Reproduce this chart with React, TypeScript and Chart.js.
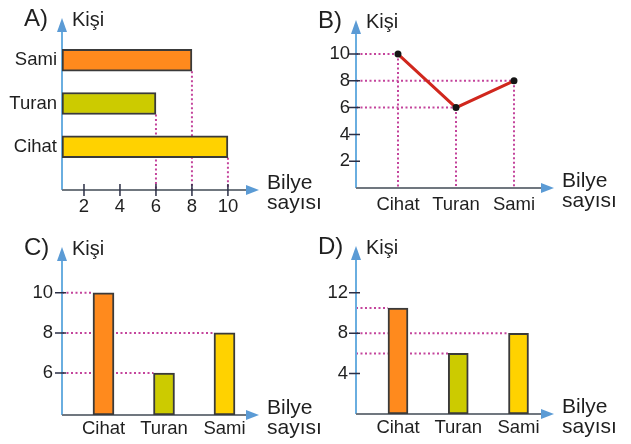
import { useEffect, useRef } from 'react';
import { Chart, registerables } from 'chart.js';

Chart.register(...registerables);

// ---------------- data ----------------
const CATEGORIES = ['Cihat', 'Turan', 'Sami'];
const MARBLES_A = [10, 6, 8];
const MARBLES_B = [10, 6, 8];
const MARBLES_C = [10, 6, 8];
const MARBLES_D = [10.5, 6, 8];
const TICKS_A = [2, 4, 6, 8, 10];
const TICKS_B = [2, 4, 6, 8, 10];
const TICKS_C = [6, 8, 10];
const TICKS_D = [4, 8, 12];
const PANEL_LABELS = ['A)', 'B)', 'C)', 'D)'];
const Y_TITLE = 'Kişi';
const X_TITLE = ['Bilye', 'sayısı'];

// ---------------- styles ----------------
const FONT = 'Arial, "Liberation Sans", Helvetica, sans-serif';
const TEXT = '#1f1f1f';
const ORANGE = '#ff8a1d';
const OLIVE = '#cccb00';
const YELLOW = '#ffd200';
const COLORS_A = [YELLOW, OLIVE, ORANGE];
const COLORS_CD = [ORANGE, OLIVE, YELLOW];
const BAR_BORDER = '#3a3a3a';
const LINE_RED = '#d0271d';
const GUIDE = '#c4449c';
const Y_AXIS = '#6aaee0';
const X_AXIS = '#70777f';
const ARROW = '#5b9bd5';
const TICK = '#2b2f45';

type Kind = 'hbar' | 'line' | 'bar';
type Spec = {
  kind: Kind;
  label: string;
  values: number[];
  ticks: number[];
  colors: string[];
  x: number; y: number; width: number; height: number;
  left: number; top: number; right: number; bottom: number;
  xMin: number; xMax: number; yMin: number; yMax: number;
  xPad: number; yPad: number; thickness: number;
};

const SPECS: Spec[] = [
  {
    kind: 'hbar', label: PANEL_LABELS[0], values: MARBLES_A, ticks: TICKS_A, colors: COLORS_A,
    x: 0, y: 0, width: 335, height: 222, left: 62, top: 31, right: 247, bottom: 190,
    xMin: 0.778, xMax: 11.06, yMin: 0, yMax: 3.676, xPad: 6, yPad: 5, thickness: 22,
  },
  {
    kind: 'line', label: PANEL_LABELS[1], values: MARBLES_B, ticks: TICKS_B, colors: [],
    x: 315, y: 0, width: 316, height: 222, left: 41, top: 33, right: 227, bottom: 188,
    xMin: 0.276, xMax: 3.483, yMin: 0, yMax: 11.57, xPad: 5.5, yPad: 6, thickness: 0,
  },
  {
    kind: 'bar', label: PANEL_LABELS[2], values: MARBLES_C, ticks: TICKS_C, colors: COLORS_CD,
    x: 0, y: 222, width: 335, height: 222, left: 62, top: 38, right: 247, bottom: 193,
    xMin: 0.314, xMax: 3.372, yMin: 3.91, yMax: 11.63, xPad: 3, yPad: 9, thickness: 21,
  },
  {
    kind: 'bar', label: PANEL_LABELS[3], values: MARBLES_D, ticks: TICKS_D, colors: COLORS_CD,
    x: 315, y: 222, width: 316, height: 222, left: 41, top: 37, right: 227, bottom: 192,
    xMin: 0.303, xMax: 3.39, yMin: 0, yMax: 15.35, xPad: 2.5, yPad: 8, thickness: 20,
  },
];

const panelPlugin = {
  id: 'panel',
  beforeDatasetsDraw(chart: any, _args: any, o: any) {
    const { ctx, chartArea, scales } = chart;
    const { left, right, top, bottom } = chartArea;
    const kind: Kind = o.kind;
    const els = chart.getDatasetMeta(0).data as any[];

    // dotted guides
    ctx.save();
    ctx.strokeStyle = GUIDE;
    ctx.lineWidth = 2;
    ctx.setLineDash([2, 2.5]);
    ctx.beginPath();
    els.forEach((el) => {
      if (kind === 'hbar') {
        ctx.moveTo(el.x, el.y + el.height / 2);
        ctx.lineTo(el.x, bottom);
      } else if (kind === 'line') {
        ctx.moveTo(left, el.y);
        ctx.lineTo(el.x, el.y);
        ctx.moveTo(el.x, el.y);
        ctx.lineTo(el.x, bottom);
      } else {
        ctx.moveTo(left, el.y);
        ctx.lineTo(el.x - el.width / 2, el.y);
      }
    });
    ctx.stroke();
    ctx.restore();

    // axes with arrows
    ctx.save();
    ctx.lineWidth = 2;
    ctx.strokeStyle = Y_AXIS;
    ctx.beginPath();
    ctx.moveTo(left, bottom);
    ctx.lineTo(left, top);
    ctx.stroke();
    ctx.strokeStyle = X_AXIS;
    ctx.beginPath();
    ctx.moveTo(left, bottom);
    ctx.lineTo(right, bottom);
    ctx.stroke();
    ctx.fillStyle = ARROW;
    ctx.beginPath();
    ctx.moveTo(left, top - 13);
    ctx.lineTo(left - 5, top + 1);
    ctx.lineTo(left + 5, top + 1);
    ctx.closePath();
    ctx.fill();
    ctx.beginPath();
    ctx.moveTo(right + 12, bottom);
    ctx.lineTo(right - 1, bottom - 5);
    ctx.lineTo(right - 1, bottom + 5);
    ctx.closePath();
    ctx.fill();

    // tick marks
    ctx.strokeStyle = TICK;
    ctx.lineWidth = 1.5;
    ctx.beginPath();
    if (kind === 'hbar') {
      scales.x.ticks.forEach((t: any) => {
        const px = scales.x.getPixelForValue(t.value);
        ctx.moveTo(px, bottom - 6);
        ctx.lineTo(px, bottom + 6);
      });
    } else {
      scales.y.ticks.forEach((t: any) => {
        const py = scales.y.getPixelForValue(t.value);
        ctx.moveTo(left - 7, py);
        ctx.lineTo(left + 4, py);
      });
    }
    ctx.stroke();
    ctx.restore();
  },
  afterDraw(chart: any, _args: any, o: any) {
    const { ctx, chartArea } = chart;
    const { left, right, top, bottom } = chartArea;
    ctx.save();
    ctx.fillStyle = TEXT;
    ctx.textAlign = 'left';
    ctx.textBaseline = 'alphabetic';
    ctx.font = `24px ${FONT}`;
    ctx.fillText(o.label, left - 38, top - 5);
    ctx.font = `20px ${FONT}`;
    ctx.fillText(Y_TITLE, left + 10, top - 5);
    ctx.font = `21px ${FONT}`;
    ctx.fillText(X_TITLE[0], right + 20, bottom - 1);
    ctx.fillText(X_TITLE[1], right + 20, bottom + 19);
    ctx.restore();
  },
};

function buildConfig(s: Spec): any {
  const horizontal = s.kind === 'hbar';
  const points = s.values.map((v, i) => (horizontal ? { x: v, y: i + 1 } : { x: i + 1, y: v }));
  const catTicks = (scale: any) => {
    scale.ticks = CATEGORIES.map((_, i) => ({ value: i + 1 }));
  };
  const numTicks = (scale: any) => {
    scale.ticks = s.ticks.map((v) => ({ value: v }));
  };
  const catLabel = (v: any) => CATEGORIES[Math.round(Number(v)) - 1] ?? '';
  const numLabel = (v: any) => String(v);
  const tickFont = { family: FONT, size: 18.5 };

  const dataset: any =
    s.kind === 'line'
      ? {
          type: 'line',
          data: points,
          borderColor: LINE_RED,
          borderWidth: 3,
          tension: 0,
          pointRadius: 3.5,
          pointBackgroundColor: '#151515',
          pointBorderColor: '#151515',
          pointBorderWidth: 0,
        }
      : {
          type: 'bar',
          data: points,
          backgroundColor: s.colors,
          borderColor: BAR_BORDER,
          borderWidth: 2,
          borderSkipped: false,
          barThickness: s.thickness,
          base: horizontal ? s.xMin : s.yMin,
        };

  return {
    type: s.kind === 'line' ? 'line' : 'bar',
    data: { datasets: [dataset] },
    plugins: [panelPlugin],
    options: {
      responsive: false,
      animation: false,
      devicePixelRatio: 1,
      events: [],
      indexAxis: horizontal ? 'y' : 'x',
      layout: { padding: { top: s.top, right: s.width - s.right, left: 0, bottom: 0 } },
      plugins: {
        legend: { display: false },
        tooltip: { enabled: false },
        panel: { kind: s.kind, label: s.label },
      },
      scales: {
        x: {
          type: 'linear',
          bounds: 'data',
          offset: false,
          min: s.xMin,
          max: s.xMax,
          grid: { display: false, drawTicks: false, offset: false },
          border: { display: false },
          afterBuildTicks: horizontal ? numTicks : catTicks,
          afterFit: (sc: any) => {
            sc.height = s.height - s.bottom;
          },
          ticks: {
            color: TEXT,
            font: tickFont,
            padding: s.xPad,
            maxRotation: 0,
            autoSkip: false,
            callback: horizontal ? numLabel : catLabel,
          },
        },
        y: {
          type: 'linear',
          bounds: 'data',
          offset: false,
          min: s.yMin,
          max: s.yMax,
          grid: { display: false, drawTicks: false, offset: false },
          border: { display: false },
          afterBuildTicks: horizontal ? catTicks : numTicks,
          afterFit: (sc: any) => {
            sc.width = s.left;
          },
          ticks: {
            color: TEXT,
            font: tickFont,
            padding: s.yPad,
            autoSkip: false,
            callback: horizontal ? catLabel : numLabel,
          },
        },
      },
    },
  };
}

function Panel({ spec }: { spec: Spec }) {
  const ref = useRef<HTMLCanvasElement>(null);
  useEffect(() => {
    if (!ref.current) return;
    const chart = new Chart(ref.current, buildConfig(spec));
    return () => chart.destroy();
  }, [spec]);
  return (
    <canvas
      ref={ref}
      width={spec.width}
      height={spec.height}
      style={{ position: 'absolute', left: spec.x, top: spec.y, width: spec.width, height: spec.height }}
    />
  );
}

export default function App() {
  return (
    <div
      style={{
        position: 'fixed',
        left: 0,
        top: 0,
        width: 631,
        height: 444,
        background: '#ffffff',
        overflow: 'hidden',
      }}
    >
      {SPECS.map((s) => (
        <Panel key={s.label} spec={s} />
      ))}
    </div>
  );
}
